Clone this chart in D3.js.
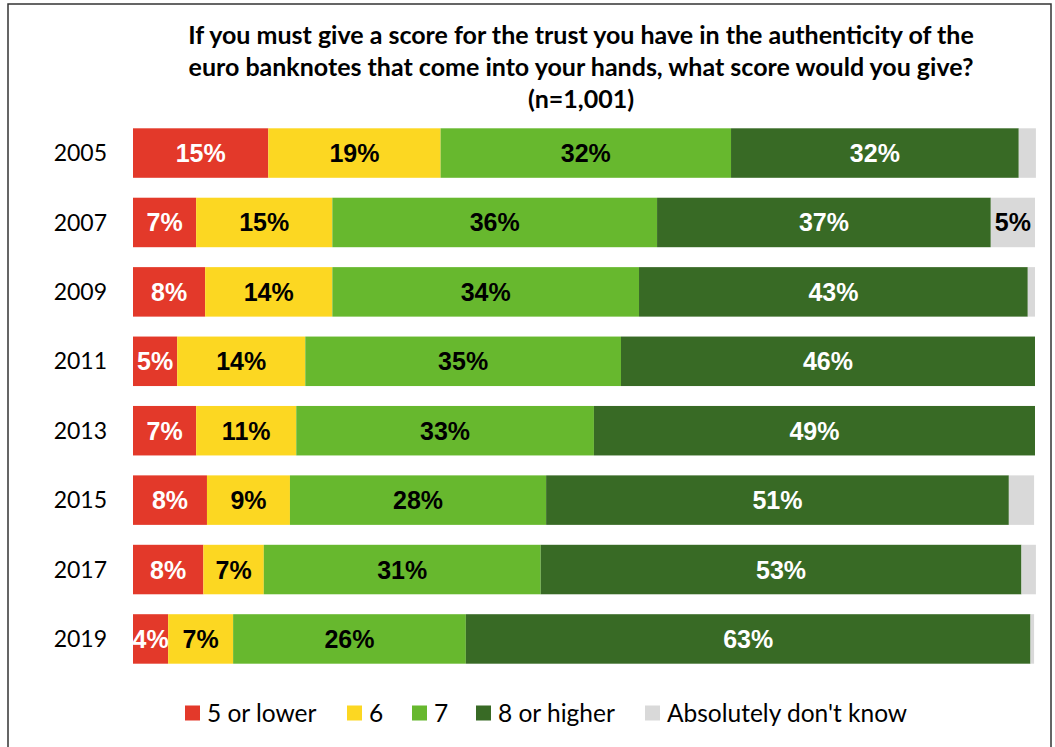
<!DOCTYPE html>
<html><head><meta charset="utf-8">
<script src="https://cdn.jsdelivr.net/npm/d3@7"></script>
<style>body{margin:0;background:#fff}svg{display:block}</style>
</head><body>
<script>
const years = ["2005","2007","2009","2011","2013","2015","2017","2019"];
const seriesNames = ["5 or lower","6","7","8 or higher","Absolutely don't know"];
const low   = [15.0, 7.0, 8.0, 4.9, 7.0, 8.2, 7.8, 3.9];
const six   = [19.1,15.1,14.1,14.2,11.1, 9.2, 6.7, 7.2];
const seven = [32.2,36.0,34.0,35.0,33.0,28.4,30.7,25.8];
const high  = [31.9,37.0,43.1,45.9,48.9,51.3,53.3,62.6];
const dk    = [ 1.9, 4.9, 0.8, 0.0, 0.0, 2.8, 1.6, 0.4];
const titleLines = ["If you must give a score for the trust you have in the authenticity of the",
  "euro banknotes that come into your hands, what score would you give?","(n=1,001)"];

const colors = ["#E3392A","#FCD722","#67B82E","#386A25","#D9D9D9"];
const textColors = ["#fff","#000","#000","#fff","#000"];
const W = 1055, H = 747;
const svg = d3.select("body").append("svg").attr("width",W).attr("height",H);

svg.append("rect").attr("x",8).attr("y",4).attr("width",1043).attr("height",760)
  .attr("fill","none").attr("stroke","#333").attr("stroke-width",1.5);

const rows = years.map((y,i)=>({year:y, s0:low[i], s1:six[i], s2:seven[i], s3:high[i], s4:dk[i]}));
const keys = ["s0","s1","s2","s3","s4"];
const stack = d3.stack().keys(keys)(rows);

const x = d3.scaleLinear().domain([0,100]).range([133,1035]);
const y = d3.scaleBand().domain(years).range([128.3,663.7]).paddingInner(0.287).paddingOuter(0);

const sans = "Lato, 'Open Sans', sans-serif";
// title
svg.append("g").selectAll("text").data(titleLines).join("text")
  .attr("x",581).attr("y",(d,i)=>44+i*32).attr("text-anchor","middle")
  .attr("font-family",sans).attr("font-weight","bold")
  .attr("font-size",25).attr("fill","#000").text(d=>d);

// year labels
svg.append("g").selectAll("text").data(years).join("text")
  .attr("x",107).attr("y",d=>y(d)+y.bandwidth()/2).attr("dy","0.35em")
  .attr("text-anchor","end").attr("font-family",sans)
  .attr("font-size",23).attr("fill","#000").text(d=>d);

const g = svg.append("g");
stack.forEach((layer,k)=>{
  g.append("g").selectAll("rect").data(layer).join("rect")
    .attr("x",d=>x(d[0])).attr("width",d=>x(d[1])-x(d[0]))
    .attr("y",d=>y(d.data.year)).attr("height",y.bandwidth())
    .attr("fill",colors[k]);
});
const fmt = d3.format(".0f");
stack.forEach((layer,k)=>{
  g.append("g").selectAll("text").data(layer.filter(d=>(d[1]-d[0])>= (k===4?4:1))).join("text")
    .attr("x",d=>(x(d[0])+x(d[1]))/2).attr("y",d=>y(d.data.year)+y.bandwidth()/2)
    .attr("dy","0.36em").attr("text-anchor","middle")
    .attr("font-family","'Liberation Sans', Arial, sans-serif").attr("font-weight","bold")
    .attr("font-size",25).attr("fill",textColors[k])
    .text(d=>fmt(d[1]-d[0])+"%");
});

// legend
const legX = [185,347,412,476,645];
const lg = svg.append("g").selectAll("g").data(seriesNames).join("g")
  .attr("transform",(d,i)=>`translate(${legX[i]},713)`);
lg.append("rect").attr("x",0).attr("y",-7.5).attr("width",15).attr("height",15).attr("fill",(d,i)=>colors[i]);
lg.append("text").attr("x",22).attr("dy","0.35em").attr("font-family",sans)
  .attr("font-size",24.5).attr("fill","#000").text(d=>d);
</script>
</body></html>
